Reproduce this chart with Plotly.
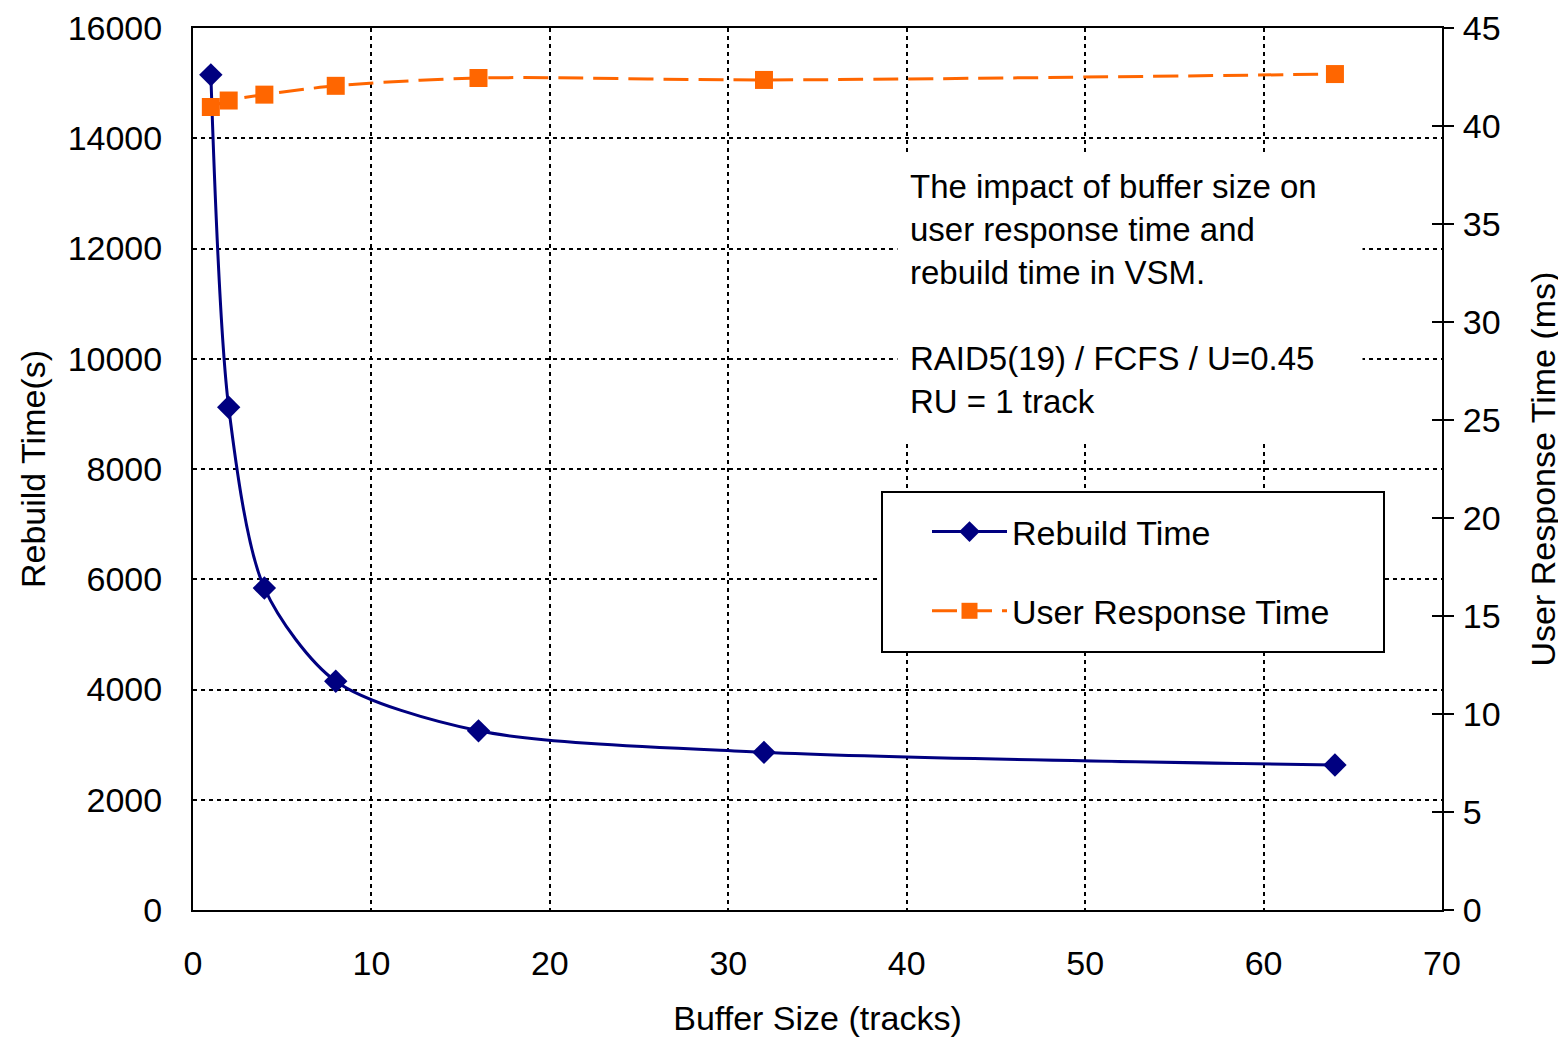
import plotly.graph_objects as go

buffer_size = [1, 2, 4, 8, 16, 32, 64]
rebuild_time = [15150, 9120, 5840, 4150, 3250, 2860, 2630]
user_response = [40.97, 41.3, 41.6, 42.05, 42.45, 42.35, 42.65]

x_ticks = [0, 10, 20, 30, 40, 50, 60, 70]
y_ticks = [0, 2000, 4000, 6000, 8000, 10000, 12000, 14000, 16000]
y2_ticks = [0, 5, 10, 15, 20, 25, 30, 35, 40, 45]

FONT = "Liberation Sans, Arial, sans-serif"
FS = 34

OFF = 8  # page body margin
W, H = 1566 - OFF, 1037 - OFF
# plot area in figure coordinates
L, R, T, B = 193 - OFF, 1442 - OFF, 28 - OFF, 910 - OFF


def px(x):
    return (x - OFF - L) / (R - L)


def py(y):
    return (B - (y - OFF)) / (B - T)


fig = go.Figure()
fig.add_trace(go.Scatter(
    x=buffer_size, y=rebuild_time, name="Rebuild Time", legendgroup="a",
    mode="lines+markers", line=dict(color="#000080", width=3, shape="spline", smoothing=0.8),
    marker=dict(symbol="diamond", size=18, color="#000080"),
))
fig.add_trace(go.Scatter(
    x=buffer_size, y=user_response, name="User Response Time", yaxis="y2", legendgroup="b",
    mode="lines+markers", line=dict(color="#FF6600", width=3, dash="25px,10px", shape="spline", smoothing=0.8),
    marker=dict(symbol="square", size=18, color="#FF6600"),
))

axis_common = dict(showline=True, linecolor="black", linewidth=2,
                   tickfont=dict(family=FONT, size=FS, color="black"),
                   zeroline=False, automargin=False)

fig.update_layout(
    width=W, height=H,
    margin=dict(l=L, r=W - R, t=T, b=H - B),
    paper_bgcolor="white", plot_bgcolor="white",
    font=dict(family=FONT, size=FS, color="black"),
    showlegend=True,
    legend=dict(x=px(927), y=py(503), xanchor="left", yanchor="top",
                bgcolor="rgba(0,0,0,0)", borderwidth=0,
                font=dict(family=FONT, size=FS, color="black"),
                tracegroupgap=32, itemwidth=75),
    xaxis=dict(range=[0, 70], tickvals=x_ticks, ticks="", ticklabelstandoff=22,
               showgrid=True, gridcolor="black", griddash="4px,4px", gridwidth=1.5,
               mirror=True,
               title=dict(text="Buffer Size (tracks)", font=dict(family=FONT, size=FS), standoff=26),
               **axis_common),
    yaxis=dict(range=[0, 16000], tickvals=y_ticks, tickformat="d", ticks="", mirror=False,
               ticklabelstandoff=22,
               showgrid=True, gridcolor="black", griddash="4px,4px", gridwidth=1.5,
               title=dict(text="Rebuild Time(s)", font=dict(family=FONT, size=FS), standoff=12),
               **axis_common),
    yaxis2=dict(range=[0, 45], tickvals=y2_ticks, overlaying="y", side="right",
                ticks="outside", ticklen=10, tickwidth=2, tickcolor="black", showgrid=False,
                ticklabelstandoff=2,
                title=dict(text="User Response Time (ms)", font=dict(family=FONT, size=FS), standoff=32),
                **axis_common),
    yaxis3=dict(range=[0, 45], tickvals=y2_ticks, overlaying="y", side="right",
                ticks="inside", ticklen=10, tickwidth=2, tickcolor="black", showgrid=False,
                showticklabels=False, showline=False, zeroline=False),
)

# legend frame
fig.add_shape(type="rect", xref="paper", yref="paper",
              x0=px(882), x1=px(1384), y0=py(652), y1=py(492),
              line=dict(color="black", width=2), fillcolor="white", layer="above")

fig.add_annotation(
    xref="paper", yref="paper", x=px(897), y=py(155), xanchor="left", yanchor="top",
    text="The impact of buffer size on<br>user response time and<br>rebuild time in VSM.<br><br>RAID5(19) / FCFS / U=0.45<br>RU = 1 track",
    align="left", valign="top", width=440, height=262, showarrow=False, bgcolor="white", borderpad=12,
    font=dict(family=FONT, size=33, color="black"),
)
# invisible trace to activate yaxis3
fig.add_trace(go.Scatter(x=[None], y=[None], yaxis="y3", showlegend=False, hoverinfo="skip"))

fig.write_html("out.html")
